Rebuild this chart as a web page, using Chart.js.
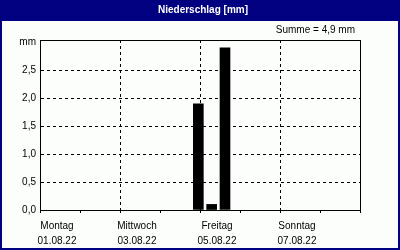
<!DOCTYPE html>
<html><head><meta charset="utf-8">
<script src="https://cdn.jsdelivr.net/npm/chart.js@4/dist/chart.umd.min.js"></script>
<style>html,body{margin:0;padding:0;background:#fff;}#wrap{width:400px;height:250px;}</style>
</head><body><div id="wrap"><canvas id="c" width="400" height="250"></canvas></div>
<script>
const chartTitle = 'Niederschlag [mm]';
const sumLabel = 'Summe = 4,9 mm';
const yUnit = 'mm';
// bar positions: hours since Mo 01.08.22 00:00
const barHours = [83, 91, 99];
const barValues = [1.9, 0.1, 2.9];
const dayNames = ['Montag','Dienstag','Mittwoch','Donnerstag','Freitag','Samstag','Sonntag','Montag'];
const dayDates = ['01.08.22','02.08.22','03.08.22','04.08.22','05.08.22','06.08.22','07.08.22','08.08.22'];
const labeledDays = [0, 2, 4, 6];
const yTicks = [0, 0.5, 1, 1.5, 2, 2.5, 3];
const yMax = 3.04;

const FONT = 'Liberation Sans, Arial, sans-serif';
const NAVY = '#000080';
const BG = '#FCFEFC';

const framePlugin = {
  id: 'frame',
  beforeDraw(chart) {
    const ctx = chart.ctx;
    ctx.save();
    ctx.fillStyle = NAVY;
    ctx.fillRect(0, 0, 400, 250);
    ctx.fillStyle = BG;
    ctx.fillRect(2, 21, 396, 227);
    ctx.restore();
  },
  afterDraw(chart) {
    const ctx = chart.ctx;
    ctx.save();
    ctx.fillStyle = '#000';
    ctx.font = '10px ' + FONT;
    ctx.textAlign = 'right';
    ctx.textBaseline = 'middle';
    ctx.fillText(sumLabel, chart.chartArea.right - 5, 30.5);
    ctx.restore();
  }
};

const majorX = labeledDays.filter(d => d > 0).map(d => d * 24);

new Chart(document.getElementById('c'), {
  type: 'bar',
  data: {
    datasets: [{
      data: barHours.map((h, i) => ({x: h, y: barValues[i]})),
      backgroundColor: '#000',
      borderWidth: 0,
      barThickness: 10,
      xAxisID: 'x',
      yAxisID: 'y'
    }]
  },
  options: {
    responsive: false,
    devicePixelRatio: 1,
    animation: false,
    layout: {padding: {left: 6, right: 0, top: 0, bottom: 0}},
    plugins: {
      legend: {display: false},
      tooltip: {enabled: false},
      title: {
        display: true,
        text: chartTitle,
        color: '#fff',
        font: {family: FONT, size: 10, weight: 'bold'},
        padding: {top: 4, bottom: 24}
      }
    },
    scales: {
      x: {
        type: 'linear',
        position: 'bottom',
        min: 0,
        max: (dayNames.length - 1) * 24,
        afterBuildTicks: s => { s.ticks = dayNames.map((_, d) => ({value: d * 24})); },
        afterFit: s => { s.height = 40; },
        ticks: {
          autoSkip: false,
          maxRotation: 0,
          color: '#000',
          font: {family: FONT, size: 10, lineHeight: 1.45},
          padding: 6,
          labelOffset: -3,
          callback: v => { const d = Math.round(v / 24); return labeledDays.includes(d) ? [dayNames[d], dayDates[d]] : ''; }
        },
        grid: {
          color: c => (c.tick && majorX.includes(c.tick.value)) ? '#000' : 'rgba(0,0,0,0)',
          tickColor: '#000',
          tickLength: 3,
          tickBorderDash: [],
          lineWidth: 1
        },
        border: {display: true, color: '#000', width: 1, dash: [3, 3]}
      },
      xTop: {
        type: 'linear',
        position: 'top',
        display: true,
        min: 0, max: 168,
        afterFit: s => { s.height = 0; },
        ticks: {display: false},
        grid: {drawOnChartArea: false, drawTicks: false},
        border: {display: true, color: '#000', width: 1}
      },
      y: {
        type: 'linear',
        position: 'left',
        min: 0,
        max: yMax,
        afterBuildTicks: s => { s.ticks = yTicks.map(v => ({value: v})); },
        afterFit: s => { s.width = 34; },
        ticks: {
          color: '#000',
          font: {family: FONT, size: 10},
          padding: 4,
          callback: v => v >= yTicks[yTicks.length - 1] ? yUnit : v.toFixed(1).replace('.', ',')
        },
        grid: {
          color: c => (c.tick && c.tick.value > 0 && c.tick.value < yTicks[yTicks.length - 1]) ? '#000' : 'rgba(0,0,0,0)',
          drawTicks: false,
          lineWidth: 1
        },
        border: {display: true, color: '#000', width: 1, dash: [3, 3]}
      },
      yRight: {
        type: 'linear',
        position: 'right',
        display: true,
        min: 0, max: yMax,
        afterFit: s => { s.width = 40; },
        ticks: {display: false},
        grid: {drawOnChartArea: false, drawTicks: false},
        border: {display: true, color: '#000', width: 1}
      }
    }
  },
  plugins: [framePlugin]
});
</script>
</body></html>
